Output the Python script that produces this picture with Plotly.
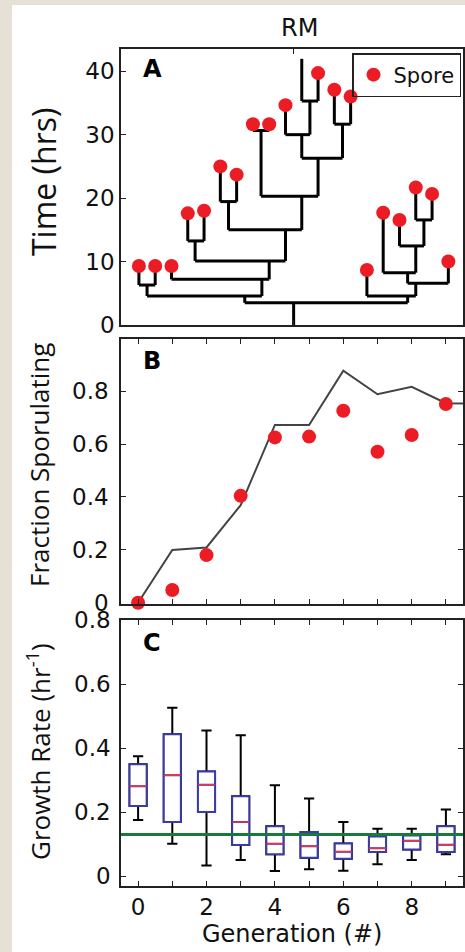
import plotly.graph_objects as go

# ---------------- Panel A: lineage tree ----------------
leaf_x = list(range(1, 21))
leaf_time = [9.3, 9.3, 9.3, 17.6, 18.0, 25.0, 23.7, 31.65, 31.65, 34.65,
             41.95, 39.7, 37.07, 36.0, 8.67, 17.7, 16.56, 21.66, 20.66, 10.0]
leaf_spore = [1, 1, 1, 1, 1, 1, 1, 1, 1, 1,
              0, 1, 1, 1, 1, 1, 1, 1, 1, 1]

split_name = ["root", "a", "n12", "c", "d", "n45", "e", "n67", "f", "n89",
              "g", "h", "n1112", "n1314", "q", "r", "s", "u", "v"]
split_x = [10.5, 7.5, 1.5, 8.55, 9.0, 4.45, 10.0, 6.5, 11.0, 8.5,
           12.0, 11.0, 11.5, 13.5, 17.5, 18.0, 17.5, 18.0, 18.5]
split_time = [3.5, 4.57, 6.3, 7.2, 10.1, 13.25, 15.0, 19.45, 20.3, 30.65,
              26.3, 30.0, 35.3, 31.65, 4.57, 6.57, 8.25, 12.46, 16.56]
split_left = ["a", "n12", "L1", "L3", "n45", "L4", "n67", "L6", "n89", "L8",
              "h", "L10", "L11", "L13", "L15", "s", "L16", "L17", "L18"]
split_right = ["q", "c", "L2", "d", "e", "L5", "f", "L7", "g", "L9",
               "n1314", "n1112", "L12", "L14", "r", "L20", "u", "v", "L19"]

# ---------------- Panel B: fraction sporulating ----------------
generation = list(range(10))
frac_observed = [0.0, 0.048, 0.18, 0.404, 0.625, 0.628, 0.726, 0.571, 0.634, 0.751]
line_generation = list(range(11))
frac_model = [0.0, 0.199, 0.209, 0.369, 0.672, 0.672, 0.877, 0.788, 0.816, 0.754, 0.752]

# ---------------- Panel C: growth rate ----------------
gr_upper = [0.374, 0.526, 0.455, 0.44, 0.284, 0.242, 0.169, 0.148, 0.148, 0.208]
gr_q3 = [0.349, 0.443, 0.327, 0.249, 0.156, 0.138, 0.102, 0.124, 0.127, 0.156]
gr_median = [0.281, 0.315, 0.285, 0.169, 0.101, 0.093, 0.076, 0.087, 0.110, 0.098]
gr_q1 = [0.219, 0.169, 0.2, 0.097, 0.068, 0.057, 0.054, 0.075, 0.083, 0.075]
gr_lower = [0.175, 0.101, 0.033, 0.05, 0.016, 0.021, 0.017, 0.037, 0.05, 0.068]
gr_reference = 0.13

y_ticks_frac = [0, 0.2, 0.4, 0.6, 0.8]
y_ticklabels_frac = ["0", "0.2", "0.4", "0.6", "0.8"]
gen_ticks_labeled = [0, 2, 4, 6, 8]

W, H = 465, 952
RED = "#ec1c24"
TICKFONT = dict(family="DejaVu Sans", size=23, color="#111")
TITLEFONT = dict(family="Open Sans", size=26, color="#111")

fig = go.Figure()

# ---- build tree segments from the arrays ----
pos = {}
for i, (x, t) in enumerate(zip(leaf_x, leaf_time)):
    pos["L%d" % (i + 1)] = (x, t)
for n, x, t in zip(split_name, split_x, split_time):
    pos[n] = (x, t)

tx, ty = [], []
rx, rt = pos["root"]
tx += [rx, rx, None]
ty += [0, rt, None]
for n, l, r in zip(split_name, split_left, split_right):
    x0, t0 = pos[n]
    xl, tl = pos[l]
    xr, tr = pos[r]
    tx += [xl, xr, None, xl, xl, None, xr, xr, None]
    ty += [t0, t0, None, t0, tl, None, t0, tr, None]

fig.add_trace(go.Scatter(x=tx, y=ty, mode="lines", xaxis="x", yaxis="y",
                         line=dict(color="black", width=3), showlegend=False,
                         hoverinfo="skip"))
sx = [x for x, s in zip(leaf_x, leaf_spore) if s]
sy = [t for t, s in zip(leaf_time, leaf_spore) if s]
fig.add_trace(go.Scatter(x=sx, y=sy, mode="markers", xaxis="x", yaxis="y",
                         marker=dict(color=RED, size=14), name="Spore",
                         showlegend=True))

# ---- Panel B ----
fig.add_trace(go.Scatter(x=line_generation, y=frac_model, mode="lines",
                         xaxis="x2", yaxis="y2", line=dict(color="#444", width=2),
                         showlegend=False))
fig.add_trace(go.Scatter(x=generation, y=frac_observed, mode="markers",
                         xaxis="x2", yaxis="y2", marker=dict(color=RED, size=14),
                         cliponaxis=False, showlegend=False))

# ---- Panel C ----
fig.add_trace(go.Box(x=generation, q1=gr_q1, median=gr_median, q3=gr_q3,
                     lowerfence=gr_lower, upperfence=gr_upper,
                     xaxis="x3", yaxis="y3", width=0.5, whiskerwidth=0.6,
                     line=dict(color="black", width=2),
                     fillcolor="rgba(0,0,0,0)", boxpoints=False,
                     showlegend=False))
fig.add_trace(go.Box(x=generation, q1=gr_q1, median=gr_median, q3=gr_q3,
                     lowerfence=gr_q1, upperfence=gr_q3,
                     xaxis="x3", yaxis="y3", width=0.5, whiskerwidth=0,
                     line=dict(color="#3a3aa8", width=2),
                     fillcolor="white", boxpoints=False, showlegend=False))
fig.add_trace(go.Box(x=generation, q1=gr_median, median=gr_median, q3=gr_median,
                     lowerfence=gr_median, upperfence=gr_median,
                     xaxis="x3", yaxis="y3", width=0.5, whiskerwidth=0,
                     line=dict(color="#f03040", width=1.5),
                     fillcolor="rgba(0,0,0,0)", boxpoints=False,
                     showlegend=False))

xdom = [121 / W, 463 / W]
axis_common = dict(showgrid=False, zeroline=False, showline=True,
                   linecolor="#222", linewidth=1.5, ticks="inside",
                   tickcolor="#222", ticklen=5, tickwidth=1.2,
                   tickfont=TICKFONT, automargin=False)
minor_gen = dict(ticks="inside", tick0=0, dtick=1, ticklen=5, tickwidth=1.2,
                 tickcolor="#222", showgrid=False)


def ann(text, x, y, font, angle=0):
    return dict(text=text, x=x / W, y=1 - y / H, xref="paper", yref="paper",
                xanchor="center", yanchor="middle", showarrow=False,
                textangle=angle, font=font)


BOLD = dict(family="DejaVu Sans", size=24, color="#000")

fig.update_layout(
    width=W, height=H, autosize=False,
    margin=dict(l=0, r=0, t=0, b=0),
    paper_bgcolor="white", plot_bgcolor="white",
    boxmode="overlay",
    xaxis=dict(domain=xdom, range=[-0.1, 20.9], tickvals=[10.5],
               showticklabels=False, mirror="ticks", anchor="y", **axis_common),
    yaxis=dict(domain=[1 - 325 / H, 1 - 49 / H], range=[0, 43.5],
               tickvals=[0, 10, 20, 30, 40], mirror=True, anchor="x",
               ticklabelstandoff=0, **axis_common),
    xaxis2=dict(domain=xdom, range=[-0.5, 9.5], tickvals=generation,
                showticklabels=False, mirror="ticks", anchor="y2", **axis_common),
    yaxis2=dict(domain=[1 - 603.5 / H, 1 - 339 / H], range=[-0.003, 0.997],
                tickvals=y_ticks_frac, ticktext=y_ticklabels_frac,
                mirror="ticks", anchor="x2", ticklabelstandoff=6, **axis_common),
    xaxis3=dict(domain=xdom, range=[-0.5, 9.5], tickvals=gen_ticks_labeled,
                minor=minor_gen, mirror="ticks", anchor="y3", **axis_common),
    yaxis3=dict(domain=[1 - 886 / H, 1 - 620 / H], range=[-0.031, 0.8],
                tickvals=y_ticks_frac, ticktext=y_ticklabels_frac,
                mirror="ticks", anchor="x3", ticklabelstandoff=4, **axis_common),
    legend=dict(x=461 / W, xanchor="right", y=1 - 53 / H, yanchor="top",
                bgcolor="rgba(255,255,255,0)", bordercolor="#222", borderwidth=1.5,
                font=dict(family="DejaVu Sans", size=21, color="#111"),
                itemwidth=30, tracegroupgap=0),
    shapes=[
        dict(type="rect", xref="paper", yref="paper", x0=0, x1=12 / W, y0=0, y1=1,
             fillcolor="#e6e0d6", line=dict(width=0), layer="below"),
        dict(type="rect", xref="paper", yref="paper", x0=0, x1=1, y0=1 - 5 / H, y1=1,
             fillcolor="#e6e0d6", line=dict(width=0), layer="below"),
        dict(type="line", xref="x3 domain", yref="y3", x0=0, x1=1,
             y0=gr_reference, y1=gr_reference,
             line=dict(color="#177a3a", width=3), layer="above"),
    ],
    annotations=[
        ann("RM", 299, 28, dict(family="DejaVu Sans", size=24, color="#111")),
        ann("<b>A</b>", 152, 69, BOLD),
        ann("<b>B</b>", 152, 361, BOLD),
        ann("<b>C</b>", 152, 643, BOLD),
        ann("Time (hrs)", 43, 182, dict(family="Open Sans", size=32, color="#111"), -90),
        ann("Fraction Sporulating", 39, 465, TITLEFONT, -90),
        ann("Growth Rate (hr<sup>-1</sup>)", 39, 752, TITLEFONT, -90),
        ann("Generation (#)", 292, 934, dict(family="DejaVu Sans", size=24, color="#111")),
    ],
)

fig.write_html("out.html", config={"displayModeBar": False},
               post_script="document.body.style.margin='0px';"
                           "document.body.style.overflow='hidden';")
